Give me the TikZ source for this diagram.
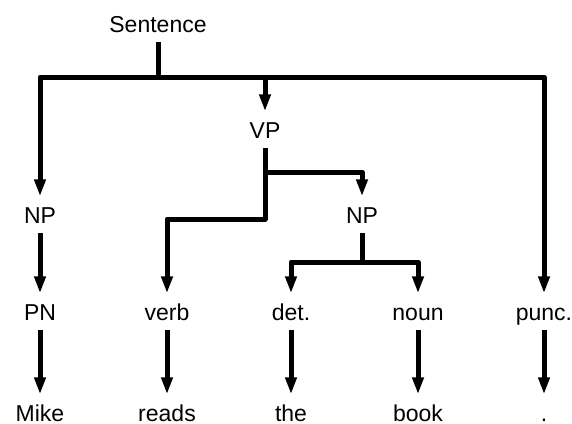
\documentclass[tikz,border=0pt]{standalone}
\usepackage{fontspec}
\setmainfont{Liberation Sans}
\usetikzlibrary{arrows.meta}
\begin{document}
\begin{tikzpicture}[x=1pt,y=-1pt,
  lbl/.style={font=\fontsize{23}{28}\selectfont, inner xsep=0pt, inner ysep=10pt,
              text height=16.5pt, text depth=0pt, anchor=base},
  edge/.style={line width=5pt, line join=round},
  arr/.style={edge, -{Triangle[width=11pt,length=17pt]}}]
\useasboundingbox (0,0) rectangle (572,423);

% labels of the tree
\node[lbl] (S)    at (158,32)  {Sentence};
\node[lbl] (VP)   at (265,138) {VP};
\node[lbl] (NPa)  at (40,223)  {NP};
\node[lbl] (NPb)  at (362,223) {NP};
\node[lbl] (PN)   at (40,320)  {PN};
\node[lbl] (verb) at (167,320) {verb};
\node[lbl] (det)  at (291,320) {det.};
\node[lbl] (noun) at (418,320) {noun};
\node[lbl] (punc) at (544,320) {punc.};
\node[lbl] (w1)   at (40,421)  {Mike};
\node[lbl] (w2)   at (167,421) {reads};
\node[lbl] (w3)   at (291,421) {the};
\node[lbl] (w4)   at (418,421) {book};
\node[lbl] (w5)   at (544,421) {.};

% branch points
\coordinate (sbar) at (158,77);
\coordinate (vpk)  at (265,219);
\coordinate (vpj)  at (265,172);
\coordinate (npk)  at (362,262);

% Sentence
\draw[edge] (S.south) -- (sbar);
\draw[arr] (sbar) -| (NPa.north);
\draw[arr] (sbar) -| (punc.north);
\draw[arr] (VP.north |- sbar) -- (VP.north);

% VP
\draw[arr] (VP.south) -- (vpk) -| (verb.north);
\draw[arr] (vpj) -| (NPb.north);

% object NP
\draw[edge] (NPb.south) -- (npk);
\draw[arr] (npk) -| (det.north);
\draw[arr] (npk) -| (noun.north);

% subject NP
\draw[arr] (NPa.south) -- (PN.north);

% words
\draw[arr] (PN.south)   -- (w1.north);
\draw[arr] (verb.south) -- (w2.north);
\draw[arr] (det.south)  -- (w3.north);
\draw[arr] (noun.south) -- (w4.north);
\draw[arr] (punc.south) -- (w5.north);
\end{tikzpicture}
\end{document}
